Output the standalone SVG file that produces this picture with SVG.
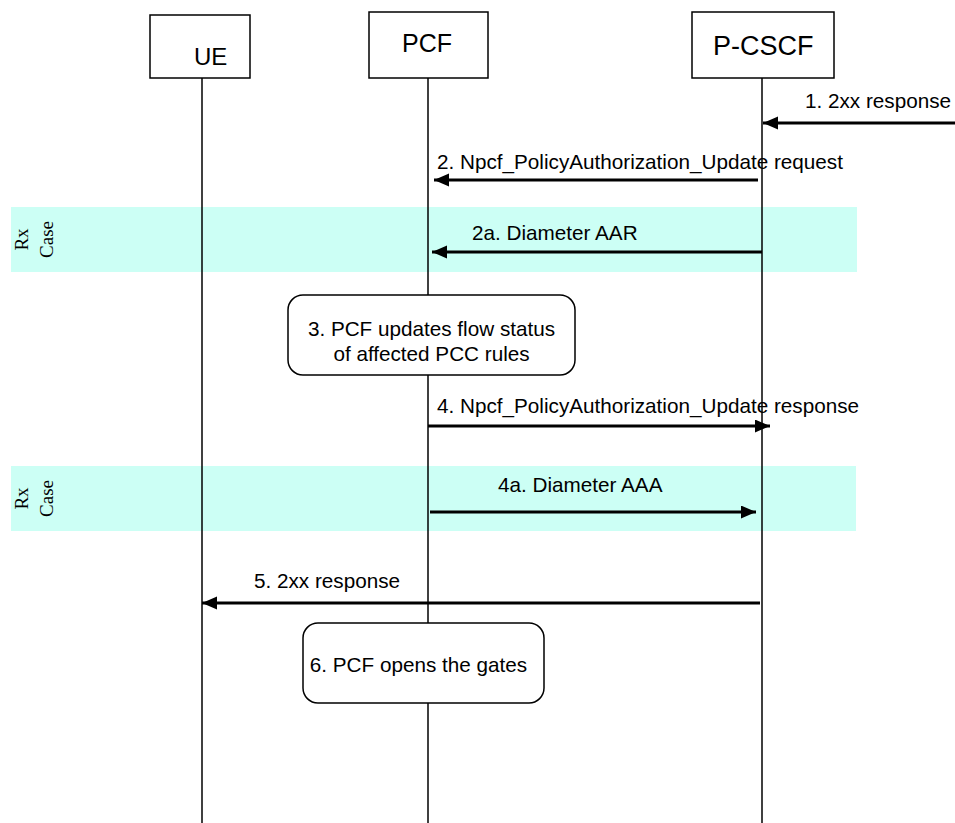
<svg xmlns="http://www.w3.org/2000/svg" width="955" height="823" viewBox="0 0 955 823">
<style>
  .box { fill: #ffffff; stroke: #000000; stroke-width: 1.5; }
  .life { stroke: #000000; stroke-width: 1.5; fill: none; }
  .band { fill: #ccfff5; stroke: none; }
  .msg { stroke: #000000; stroke-width: 3; fill: none; marker-end: url(#ah); }
  .t { font-family: "Liberation Sans", Arial, sans-serif; fill: #000000; }
  .lbl { font-size: 20.7px; }
  .rx { font-family: "Liberation Serif", "Times New Roman", serif; font-size: 19px; fill: #000000; text-anchor: middle; }
</style>
<defs>
  <marker id="ah" markerUnits="userSpaceOnUse" markerWidth="16" markerHeight="14" refX="15" refY="6.5" orient="auto">
    <path d="M0,0 L15,6.5 L0,13 z" fill="#000000"/>
  </marker>
</defs>
<rect width="955" height="823" fill="#ffffff"/>

<g id="rx-bands">
  <rect class="band" x="11" y="207" width="846" height="65"/>
  <text class="rx" transform="translate(28,239.5) rotate(-90)">Rx</text>
  <text class="rx" transform="translate(52.5,239.5) rotate(-90)">Case</text>
  <rect class="band" x="11" y="466" width="845" height="65"/>
  <text class="rx" transform="translate(28,498.5) rotate(-90)">Rx</text>
  <text class="rx" transform="translate(52.5,498.5) rotate(-90)">Case</text>
</g>

<g id="lifelines">
  <line class="life" x1="202" y1="78" x2="202" y2="823"/>
  <line class="life" x1="428" y1="78" x2="428" y2="823"/>
  <line class="life" x1="762" y1="78" x2="762" y2="823"/>
</g>

<g id="UE">
  <rect class="box" x="150" y="15" width="100" height="63"/>
  <text class="t" x="194" y="65" font-size="24">UE</text>
</g>
<g id="PCF">
  <rect class="box" x="369" y="12" width="119" height="66"/>
  <text class="t" x="402" y="52" font-size="25">PCF</text>
</g>
<g id="P-CSCF">
  <rect class="box" x="692" y="12" width="142" height="66"/>
  <text class="t" x="713" y="55" font-size="27">P-CSCF</text>
</g>

<g id="step3">
  <rect class="box" x="288" y="295" width="287" height="80" rx="15" ry="15"/>
  <text class="t lbl" x="431.5" y="336" text-anchor="middle">3. PCF updates flow status</text>
  <text class="t lbl" x="431.5" y="361" text-anchor="middle">of affected PCC rules</text>
</g>
<g id="step6">
  <rect class="box" x="303" y="623" width="241" height="80" rx="15" ry="15"/>
  <text class="t lbl" x="418.5" y="672" text-anchor="middle">6. PCF opens the gates</text>
</g>

<g id="connectors">
  <g id="msg1">
    <line class="msg" x1="955" y1="123" x2="763" y2="123"/>
    <text class="t lbl" x="805" y="108">1. 2xx response</text>
  </g>
  <g id="msg2">
    <line class="msg" x1="758" y1="180" x2="434" y2="180"/>
    <text class="t lbl" x="437" y="169">2. Npcf_PolicyAuthorization_Update request</text>
  </g>
  <g id="msg2a">
    <line class="msg" x1="762" y1="252" x2="432" y2="252"/>
    <text class="t lbl" x="472" y="240">2a. Diameter AAR</text>
  </g>
  <g id="msg4">
    <line class="msg" x1="428" y1="426" x2="770" y2="426"/>
    <text class="t lbl" x="437" y="413">4. Npcf_PolicyAuthorization_Update response</text>
  </g>
  <g id="msg4a">
    <line class="msg" x1="430" y1="512" x2="756" y2="512"/>
    <text class="t lbl" x="498" y="492">4a. Diameter AAA</text>
  </g>
  <g id="msg5">
    <line class="msg" x1="760" y1="603" x2="202" y2="603"/>
    <text class="t lbl" x="254" y="588">5. 2xx response</text>
  </g>
</g>
</svg>
